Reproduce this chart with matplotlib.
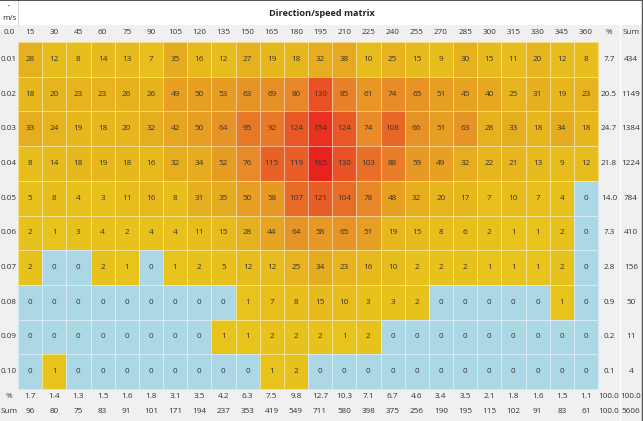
import numpy as np
import matplotlib
matplotlib.use("Agg")
import matplotlib.pyplot as plt
from matplotlib.colors import LinearSegmentedColormap
from matplotlib.lines import Line2D

plt.rcParams['font.family'] = ['Open Sans', 'DejaVu Sans']

title = "Direction/speed matrix"
directions = ["15", "30", "45", "60", "75", "90", "105", "120", "135", "150", "165", "180",
              "195", "210", "225", "240", "255", "270", "285", "300", "315", "330", "345", "360"]
speeds = ["0.01", "0.02", "0.03", "0.04", "0.05", "0.06", "0.07", "0.08", "0.09", "0.10"]
counts = [
    [28, 12, 8, 14, 13, 7, 35, 16, 12, 27, 19, 18, 32, 38, 10, 25, 15, 9, 30, 15, 11, 20, 12, 8],
    [18, 20, 23, 23, 26, 26, 49, 50, 53, 63, 69, 80, 130, 85, 61, 74, 65, 51, 45, 40, 25, 31, 19, 23],
    [33, 24, 19, 18, 20, 32, 42, 50, 64, 95, 92, 124, 154, 124, 74, 108, 66, 51, 63, 28, 33, 18, 34, 18],
    [8, 14, 18, 19, 18, 16, 32, 34, 52, 76, 115, 119, 165, 130, 103, 88, 59, 49, 32, 22, 21, 13, 9, 12],
    [5, 8, 4, 3, 11, 16, 8, 31, 35, 50, 58, 107, 121, 104, 78, 48, 32, 20, 17, 7, 10, 7, 4, 0],
    [2, 1, 3, 4, 2, 4, 4, 11, 15, 28, 44, 64, 58, 65, 51, 19, 15, 8, 6, 2, 1, 1, 2, 0],
    [2, 0, 0, 2, 1, 0, 1, 2, 5, 12, 12, 25, 34, 23, 16, 10, 2, 2, 2, 1, 1, 1, 2, 0],
    [0, 0, 0, 0, 0, 0, 0, 0, 0, 1, 7, 8, 15, 10, 3, 3, 2, 0, 0, 0, 0, 0, 1, 0],
    [0, 0, 0, 0, 0, 0, 0, 0, 1, 1, 2, 2, 2, 1, 2, 0, 0, 0, 0, 0, 0, 0, 0, 0],
    [0, 1, 0, 0, 0, 0, 0, 0, 0, 0, 1, 2, 0, 0, 0, 0, 0, 0, 0, 0, 0, 0, 0, 0],
]
row_pct = ["7.7", "20.5", "24.7", "21.8", "14.0", "7.3", "2.8", "0.9", "0.2", "0.1"]
row_sum = ["434", "1149", "1384", "1224", "784", "410", "156", "50", "11", "4"]
col_pct = ["1.7", "1.4", "1.3", "1.5", "1.6", "1.8", "3.1", "3.5", "4.2", "6.3", "7.5", "9.8",
           "12.7", "10.3", "7.1", "6.7", "4.6", "3.4", "3.5", "2.1", "1.8", "1.6", "1.5", "1.1",
           "100.0", "100.0"]
col_sum = ["96", "80", "75", "83", "91", "101", "171", "194", "237", "353", "419", "549",
           "711", "580", "398", "375", "256", "190", "195", "115", "102", "91", "83", "61",
           "100.0", "5606"]

data = np.array(counts, dtype=float)
nr, nc = data.shape

W, H = 643, 421
fig = plt.figure(figsize=(W / 100, H / 100), dpi=100)
fig.patch.set_facecolor("white")

# pixel geometry
x0, x1 = 18, 598
y0, y1 = 42, 389
cw = (x1 - x0) / nc
rh = (y1 - y0) / nr
xmin = -0.5 - x0 / cw
xmax = nc - 0.5 + (W - x1) / cw
ymax = -0.5 - y0 / rh
ymin = nr - 0.5 + (H - y1) / rh

ax = fig.add_axes([0, 0, 1, 1])
ax.set_xlim(xmin, xmax)
ax.set_ylim(ymin, ymax)
ax.axis("off")

gray = "#f0f0f0"
ytop_hdr = -0.5 - (y0 - 25) / rh
ax.fill_between([xmin, xmax], ytop_hdr, -0.5, color=gray, lw=0, zorder=0)
ax.fill_between([xmin, -0.5], -0.5, ymin, color=gray, lw=0, zorder=0)
ax.fill_between([xmin, xmax], nr - 0.5, ymin, color=gray, lw=0, zorder=0)
ax.fill_between([nc - 0.5, xmax], ytop_hdr, ymin, color=gray, lw=0, zorder=0)

cmap = LinearSegmentedColormap.from_list(
    "ys", [(0.0, "#e8c31c"), (0.2, "#e6ad1f"), (0.5, "#e8842a"), (0.8, "#e85024"), (1.0, "#e8221c")])
cmap.set_under("#acd8e6")
xe = np.arange(nc + 1) - 0.5
ye = np.arange(nr + 1) - 0.5
ax.pcolormesh(xe, ye, data, cmap=cmap, vmin=0.5, vmax=data.max(),
              edgecolor=(1, 1, 1, 0.5), linewidth=0.6, zorder=1)

fs = 5.9
tc = "#333333"
for i in range(nr):
    for j in range(nc):
        ax.text(j, i, f"{int(data[i, j])}", ha="center", va="center", fontsize=fs, color=tc, zorder=3)

yh = -0.5 - (y0 - 33) / rh
lab_x = -0.5 - (x0 - 9) / cw
xp = nc - 0.5 + (609 - x1) / cw
xs = nc - 0.5 + (631 - x1) / cw
ax.text(lab_x, yh, "0.0", ha="center", va="center", fontsize=fs, color=tc)
for j, d in enumerate(directions):
    ax.text(j, yh, d, ha="center", va="center", fontsize=fs, color=tc)
ax.text(xp, yh, "%", ha="center", va="center", fontsize=fs, color=tc)
ax.text(xs, yh, "Sum", ha="center", va="center", fontsize=fs, color=tc)

for i, s in enumerate(speeds):
    ax.text(lab_x, i, s, ha="center", va="center", fontsize=fs, color=tc)
    ax.text(xp, i, row_pct[i], ha="center", va="center", fontsize=fs, color=tc)
    ax.text(xs, i, row_sum[i], ha="center", va="center", fontsize=fs, color=tc)

yp = nr - 0.5 + (397 - y1) / rh
ys = nr - 0.5 + (412 - y1) / rh
ax.text(lab_x, yp, "%", ha="center", va="center", fontsize=fs, color=tc)
ax.text(lab_x, ys, "Sum", ha="center", va="center", fontsize=fs, color=tc)
xs_all = list(range(nc)) + [xp, xs]
for k, x in enumerate(xs_all):
    ax.text(x, yp, col_pct[k], ha="center", va="center", fontsize=fs, color=tc)
    ax.text(x, ys, col_sum[k], ha="center", va="center", fontsize=fs, color=tc)

ax.text(lab_x, -0.5 - (y0 - 6) / rh, "\u2022", ha="center", va="center", fontsize=4, color=tc)
ax.text(lab_x, -0.5 - (y0 - 18) / rh, "m/s", ha="center", va="center", fontsize=fs, color=tc)
ax.plot([-0.5, -0.5], [ymax, ytop_hdr], color="#d8d8d8", lw=0.8)

ax.text((xmin + xmax) / 2, -0.5 - (y0 - 13) / rh, title, ha="center", va="center",
        fontsize=6.6, fontweight="bold", color="#222222")

xsep = nc - 0.5 + (620 - x1) / cw
ax.plot([xsep, xsep], [ytop_hdr, ymin], color="white", lw=0.8, zorder=0.5)

# top and right border of the screenshot
fig.add_artist(Line2D([0, 1], [0.999, 0.999], transform=fig.transFigure, color="#333333", lw=1.2))
fig.add_artist(Line2D([0.999, 0.999], [0, 1], transform=fig.transFigure, color="#555555", lw=1.0))

fig.savefig("out.png", dpi=100)
